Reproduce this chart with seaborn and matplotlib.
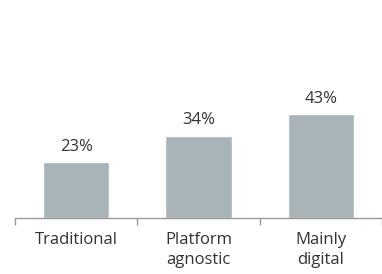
import matplotlib
matplotlib.use("Agg")
import matplotlib.pyplot as plt
import seaborn as sns
import pandas as pd

categories = ["Traditional", "Platform\nagnostic", "Mainly\ndigital"]
values = [23, 34, 43]
labels = ["23%", "34%", "43%"]

sns.set_theme(style="white")
plt.rcParams['font.family'] = ['Open Sans', 'DejaVu Sans']

df = pd.DataFrame({"cat": categories, "val": values})

fig = plt.figure(figsize=(3.82, 2.74), dpi=100)
ax = fig.add_axes([15/382, 56/274, 367/382, 218/274])
sns.barplot(data=df, x="cat", y="val", color="#a8b4b8", width=0.54,
            saturation=1, ax=ax)
ax.set_xlim(-0.5, 2.413)
ax.set_ylim(0, 90)
for i, (v, t) in enumerate(zip(values, labels)):
    ax.text(i, v + 3.0, t, ha="center", va="bottom", fontsize=12, color="#333333")
for s in ["top", "right", "left"]:
    ax.spines[s].set_visible(False)
ax.spines["bottom"].set_color("#999999")
ax.spines["bottom"].set_linewidth(1)
ax.set_yticks([])
ax.set_xlabel("")
ax.set_ylabel("")
ax.set_xticks([0, 1, 2])
ax.set_xticklabels(categories, fontsize=12, color="#333333", linespacing=1.35)
ax.set_xticks([-0.5, 0.5, 1.5, 2.5], minor=True)
ax.tick_params(axis="x", which="major", length=0, pad=10)
ax.tick_params(axis="x", which="minor", length=5, width=1, color="#999999",
               direction="out", bottom=True)
fig.savefig("out.png", dpi=100)
